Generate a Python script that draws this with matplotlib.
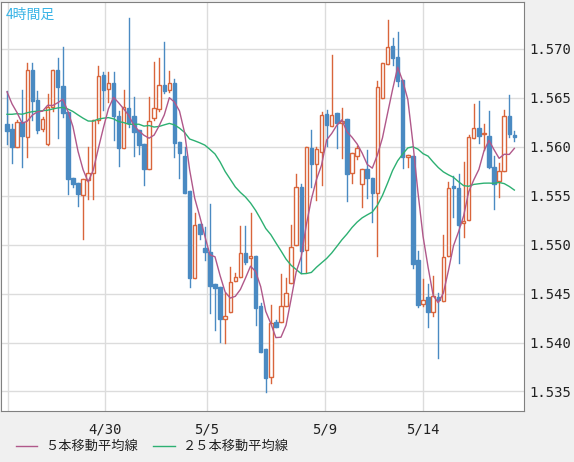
import matplotlib
matplotlib.use("Agg")
import matplotlib.pyplot as plt
from matplotlib.patches import Rectangle
import numpy as np

plt.rcParams['font.family'] = ['Noto Sans CJK JP', 'DejaVu Sans']

# OHLC per 4-hour bar
opens = [1.5623,1.5618,1.5600,1.5625,1.5610,1.5679,1.5648,1.5618,1.5603,1.5641,
         1.5678,1.5662,1.5636,1.5568,1.5563,1.5551,1.5566,1.5573,1.5627,
         1.5673,1.5659,1.5665,1.5632,1.5599,1.5640,1.5632,1.5617,1.5603,1.5577,
         1.5629,1.5639,1.5663,1.5658,1.5665,1.5605,1.5591,1.5555,1.5466,1.5521,1.5497,
         1.5493,1.5460,1.5457,1.5424,1.5431,1.5463,1.5467,1.5491,1.5486,1.5488,
         1.5437,1.5393,1.5365,1.5421,1.5421,1.5437,1.5461,1.5500,1.5559,1.5495,
         1.5599,1.5582,1.5595,1.5634,1.5621,1.5635,1.5624,1.5628,1.5573,1.5591,
         1.5562,1.5577,1.5568,1.5553,1.5650,1.5685,1.5703,1.5692,1.5668,1.5590,1.5591,
         1.5484,1.5439,1.5447,1.5431,1.5447,1.5442,1.5488,1.5560,1.5558,1.5522,
         1.5525,1.5609,1.5619,1.5613,1.5611,1.5579,1.5565,1.5575,1.5632,1.5612]
highs = [1.5657,1.5623,1.5627,1.5658,1.5686,1.5686,1.5657,1.5630,1.5654,1.5679,
         1.5691,1.5702,1.5636,1.5568,1.5563,1.5567,1.5600,1.5627,1.5683,
         1.5676,1.5676,1.5676,1.5637,1.5658,1.5732,1.5651,1.5617,1.5603,1.5651,
         1.5687,1.5691,1.5707,1.5677,1.5669,1.5605,1.5600,1.5555,1.5532,1.5521,1.5518,
         1.5542,1.5460,1.5457,1.5451,1.5477,1.5471,1.5519,1.5519,1.5532,1.5488,
         1.5440,1.5393,1.5438,1.5423,1.5470,1.5466,1.5520,1.5572,1.5562,1.5600,
         1.5617,1.5600,1.5636,1.5638,1.5694,1.5635,1.5640,1.5628,1.5594,1.5601,
         1.5577,1.5597,1.5568,1.5667,1.5686,1.5730,1.5711,1.5717,1.5668,1.5592,1.5591,
         1.5494,1.5465,1.5460,1.5468,1.5451,1.5510,1.5564,1.5570,1.5572,1.5584,
         1.5612,1.5644,1.5647,1.5623,1.5637,1.5591,1.5583,1.5638,1.5653,1.5616]
lows = [1.5603,1.5583,1.5600,1.5579,1.5590,1.5627,1.5614,1.5616,1.5602,1.5637,
        1.5609,1.5630,1.5552,1.5559,1.5540,1.5506,1.5547,1.5547,1.5624,
        1.5638,1.5646,1.5607,1.5580,1.5599,1.5620,1.5591,1.5593,1.5561,1.5577,
        1.5627,1.5637,1.5655,1.5656,1.5590,1.5568,1.5553,1.5457,1.5466,1.5506,1.5484,
        1.5430,1.5413,1.5401,1.5400,1.5431,1.5463,1.5467,1.5480,1.5467,1.5418,
        1.5390,1.5349,1.5359,1.5416,1.5421,1.5437,1.5461,1.5500,1.5471,1.5472,
        1.5559,1.5546,1.5561,1.5601,1.5621,1.5599,1.5589,1.5545,1.5563,1.5588,
        1.5538,1.5548,1.5523,1.5488,1.5650,1.5685,1.5684,1.5662,1.5578,1.5579,1.5476,
        1.5436,1.5437,1.5416,1.5427,1.5384,1.5442,1.5488,1.5528,1.5481,1.5508,
        1.5525,1.5609,1.5604,1.5597,1.5578,1.5536,1.5549,1.5575,1.5610,1.5606]
closes = [1.5616,1.5600,1.5625,1.5611,1.5679,1.5647,1.5617,1.5628,1.5641,1.5678,
          1.5661,1.5635,1.5567,1.5562,1.5552,1.5567,1.5573,1.5627,1.5672,
          1.5658,1.5665,1.5631,1.5599,1.5641,1.5624,1.5615,1.5602,1.5577,1.5626,
          1.5640,1.5663,1.5657,1.5665,1.5604,1.5594,1.5553,1.5466,1.5520,1.5511,1.5493,
          1.5458,1.5456,1.5424,1.5427,1.5462,1.5467,1.5491,1.5482,1.5488,1.5435,
          1.5390,1.5364,1.5420,1.5416,1.5437,1.5451,1.5498,1.5559,1.5494,1.5600,
          1.5582,1.5598,1.5633,1.5622,1.5633,1.5624,1.5626,1.5572,1.5594,1.5599,
          1.5577,1.5568,1.5553,1.5661,1.5686,1.5702,1.5691,1.5667,1.5590,1.5592,1.5480,
          1.5438,1.5443,1.5431,1.5448,1.5443,1.5487,1.5558,1.5558,1.5520,1.5524,
          1.5610,1.5619,1.5611,1.5614,1.5579,1.5562,1.5575,1.5632,1.5613,1.5610]
# closes of the bars before the visible window (for the moving averages)
prior_closes = [1.5600,1.5610,1.5625,1.5640,1.5620,1.5605,1.5615,1.5630,1.5645,1.5635,
                1.5620,1.5610,1.5625,1.5640,1.5650,1.5645,1.5630,1.5620,1.5635,1.5650,
                1.5662,1.5670,1.5665,1.5668]

date_labels = ["4/30", "5/5", "5/9", "5/14"]
date_pos = [19.3, 39.4, 62.7, 82.0]
yticks = [1.535, 1.540, 1.545, 1.550, 1.555, 1.560, 1.565, 1.570]

UP = "#d9653b"
DOWN = "#4a8ac2"
MA5C = "#b0588a"
MA25C = "#2db072"

fig = plt.figure(figsize=(5.74, 4.62), dpi=100)
fig.patch.set_facecolor("#f0f0f0")
ax = fig.add_axes([1/574, 1-411/462, 523/574, 409/462])
ax.set_facecolor("white")

n = len(closes)
x = np.arange(n)
allc = np.array(prior_closes + closes)
def ma(k):
    return np.array([allc[len(prior_closes)+i-k+1:len(prior_closes)+i+1].mean() for i in range(n)])

for yv in yticks:
    ax.axhline(yv, color="#dcdcdc", lw=1, zorder=0)
for xv in [0.2] + date_pos:
    ax.axvline(xv, color="#dcdcdc", lw=1, zorder=0)

w = 0.68
for i in range(n):
    o, h, l, c = opens[i], highs[i], lows[i], closes[i]
    up = c >= o
    col = UP if up else DOWN
    ax.plot([i, i], [l, h], color=col, lw=1, zorder=2)
    lo, hi = min(o, c), max(o, c)
    if up:
        ax.add_patch(Rectangle((i-w/2, lo), w, max(hi-lo, 0.00003), facecolor="white", edgecolor=col, lw=1, zorder=3))
    else:
        ax.add_patch(Rectangle((i-w/2, lo), w, max(hi-lo, 0.00003), facecolor=col, edgecolor=col, lw=1, zorder=3))

ax.plot(x, ma(25), color=MA25C, lw=1, zorder=4)
ax.plot(x, ma(5), color=MA5C, lw=1, zorder=4)

ax.set_xlim(-1.18, 101.9)
ax.set_ylim(1.5330, 1.5748)
ax.yaxis.tick_right()
ax.set_yticks(yticks)
ax.set_yticklabels([f"{v:.3f}" for v in yticks], family="DejaVu Sans Mono", fontsize=10, color="#222222")
ax.set_xticks(date_pos)
ax.set_xticklabels(date_labels, family="DejaVu Sans Mono", fontsize=10, color="#222222")
ax.tick_params(length=0, pad=8)
ax.tick_params(axis="y", pad=4)
for s in ax.spines.values():
    s.set_color("#808080")

ax.text(0.010, 0.985, "4時間足", transform=ax.transAxes, ha="left", va="top", color="#3ab4e6", fontsize=10)

ly = 1 - 446/462
fig.add_artist(plt.Line2D([16/574, 37/574], [ly, ly], color=MA5C, lw=1))
fig.text(45/574, ly, "５本移動平均線", va="center", fontsize=9.5, color="#222222")
fig.add_artist(plt.Line2D([153/574, 175/574], [ly, ly], color=MA25C, lw=1))
fig.text(183/574, ly, "２５本移動平均線", va="center", fontsize=9.5, color="#222222")

fig.savefig("out.png", dpi=100, facecolor=fig.get_facecolor())
